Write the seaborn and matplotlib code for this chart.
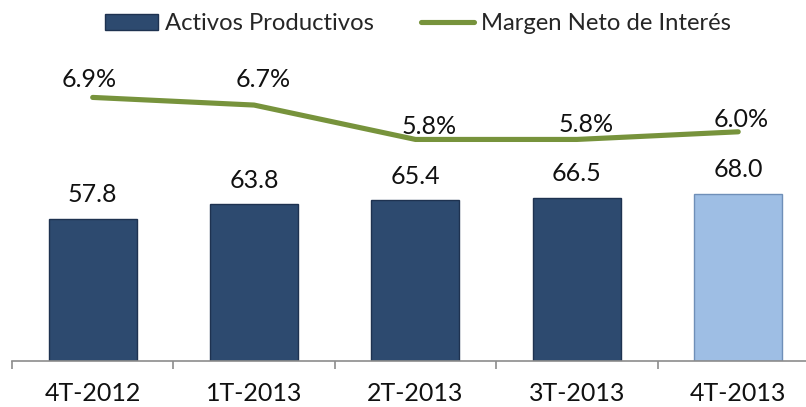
import matplotlib
matplotlib.use("Agg")
import matplotlib.pyplot as plt
import seaborn as sns
import numpy as np
import pandas as pd
from matplotlib.patches import Patch
from matplotlib.lines import Line2D

# ---- data ----
categories = ["4T-2012", "1T-2013", "2T-2013", "3T-2013", "4T-2013"]
activos = [57.8, 63.8, 65.4, 66.5, 68.0]
margen = [6.9, 6.7, 5.8, 5.8, 6.0]
bar_label = "Activos Productivos"
line_label = "Margen Neto de Interés"

# ---- styles ----
dark_bar = "#2D4A6F"
light_bar = "#9EBEE4"
bar_colors = [dark_bar, dark_bar, dark_bar, dark_bar, light_bar]
edge_colors = ["#1E3250", "#1E3250", "#1E3250", "#1E3250", "#6F8FB8"]
line_color = "#77933C"
axis_gray = "#8C8C8C"
# label offsets (pixels) for the percentage labels
pct_offsets = [(-3.5, 10), (9.5, 18), (14, 5), (9, 7), (3, 5)]

sns.set_theme(style="white")
plt.rcParams["font.family"] = ["Lato", "DejaVu Sans"]
FS = 18
LFS = 17.2

W, H = 806, 407
fig = plt.figure(figsize=(W / 100, H / 100), dpi=100)
left = 12 / W
bottom = (H - 361) / H
top_px = 60
ax = fig.add_axes([left, bottom, 1 - left, (361 - top_px) / H])

df = pd.DataFrame({"cat": categories, "val": activos})
sns.barplot(data=df, x="cat", y="val", hue="cat", palette=bar_colors,
            legend=False, width=0.545, ax=ax, saturation=1)
for p, ec in zip(ax.patches, edge_colors):
    p.set_edgecolor(ec)
    p.set_linewidth(1.0)

for c in ax.containers:
    ax.bar_label(c, fmt="%.1f", padding=9, fontsize=FS, color="#111111")

ax.set_ylim(0, 301 / 2.457)
ax.set_xlim(-0.5, 4.42)
ax.set_xlabel("")
ax.set_ylabel("")
ax.set_yticks([])
for s in ["left", "right", "top"]:
    ax.spines[s].set_visible(False)
ax.spines["bottom"].set_color(axis_gray)
ax.spines["bottom"].set_linewidth(1.2)
ax.set_xticks(range(len(categories)))
ax.set_xticklabels(categories, fontsize=FS, color="#111111")
ax.set_xticks(np.arange(-0.5, len(categories) - 0.5, 1.0), minor=True)
ax.tick_params(axis="x", which="major", length=0, pad=15)
ax.tick_params(axis="x", which="minor", length=6, width=1.2, color=axis_gray,
               direction="out", bottom=True)

ax2 = ax.twinx()
sns.lineplot(x=np.arange(len(categories)), y=margen, ax=ax2, color=line_color,
             linewidth=3.7, solid_capstyle="round", legend=False)
ax2.set_ylim(0, 301 / 38.2)
ax2.set_xlim(ax.get_xlim())
ax2.set_yticks([])
ax2.set_ylabel("")
for s in ["left", "right", "top", "bottom"]:
    ax2.spines[s].set_visible(False)

for i, (v, (dx, dy)) in enumerate(zip(margen, pct_offsets)):
    ax2.annotate(f"{v:.1f}%", (i, v), xytext=(dx * 0.72, dy * 0.72),
                 textcoords="offset points", ha="center", va="baseline",
                 fontsize=FS, color="#111111")

handles = [Patch(facecolor=dark_bar, edgecolor="#1E3250"),
           Line2D([0], [0], color=line_color, linewidth=3.7, solid_capstyle="round")]
fig.legend(handles, [bar_label, line_label], loc="center",
           bbox_to_anchor=(418 / W, 1 - 24 / H), ncol=2, frameon=False,
           fontsize=LFS, handlelength=2.2, handleheight=0.62,
           handletextpad=0.3, columnspacing=2.0, borderpad=0)

fig.savefig("out.png", dpi=100)
